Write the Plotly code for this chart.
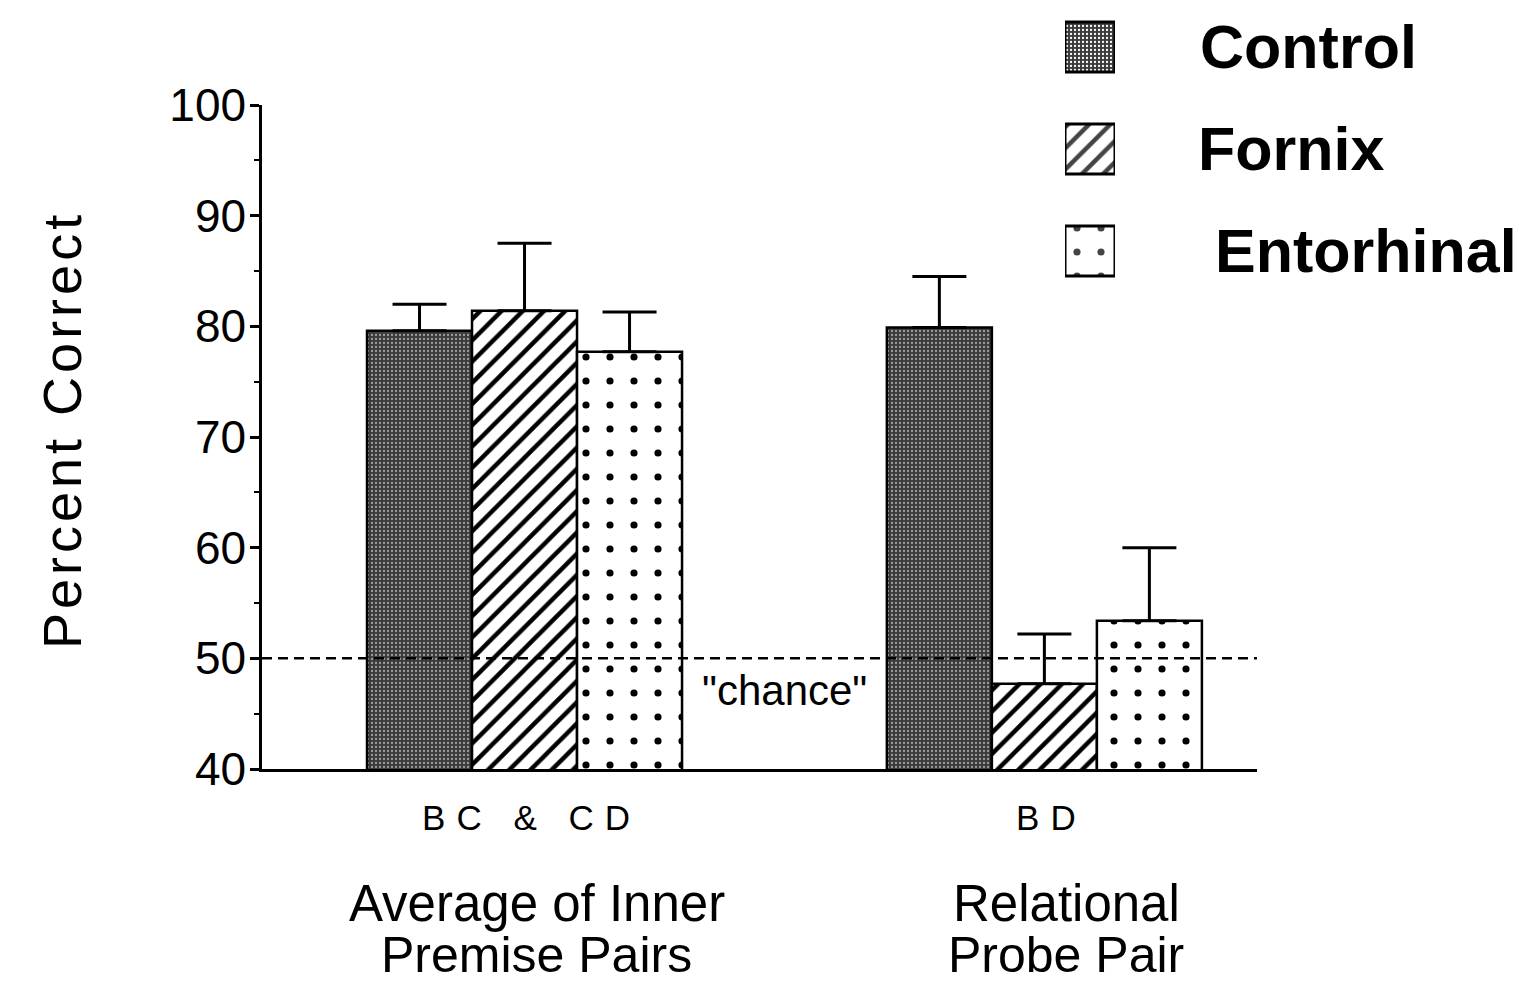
import plotly.graph_objects as go

# ---- data ----
categories = ["BC & CD", "BD"]
group_titles = [["Average of Inner", "Premise Pairs"], ["Relational", "Probe Pair"]]
series = ["Control", "Fornix", "Entorhinal"]
means = {
    "Control": [79.6, 79.9],
    "Fornix": [81.4, 47.7],
    "Entorhinal": [77.7, 53.4],
}
upper = {
    "Control": [82.0, 84.5],
    "Fornix": [87.5, 52.2],
    "Entorhinal": [81.3, 60.0],
}
CHANCE = 50
y_ticks = [40, 50, 60, 70, 80, 90, 100]

# ---- styles ----
FONT = "Liberation Sans, Arial, Helvetica, sans-serif"
styles = {
    "Control": dict(color="#3a3a3a", pattern=dict(shape=".", fgcolor="#a0a0a0", bgcolor="#3a3a3a", size=4, solidity=0.25)),
    "Fornix": dict(color="white", pattern=dict(shape="/", fgcolor="black", bgcolor="white", size=15, solidity=0.3)),
    "Entorhinal": dict(color="white", pattern=dict(shape=".", fgcolor="black", bgcolor="white", size=24, solidity=0.07)),
}

W, H = 1533, 985
def px_x(p):
    return p / W
def px_y(p):
    return (H - p) / H

fig = go.Figure()

for s in series:
    err = [u - m for u, m in zip(upper[s], means[s])]
    pat = dict(styles[s]["pattern"], fgopacity=1)
    fig.add_trace(go.Bar(
        x=categories, y=means[s], name=s, showlegend=False,
        marker=dict(color=styles[s]["color"], pattern=pat,
                    line=dict(color="black", width=2.5)),
        error_y=dict(type="data", array=err, arrayminus=[0] * len(err), symmetric=False,
                     color="black", thickness=3, width=27),
        xaxis="x", yaxis="y",
    ))

# legend swatches as a small hidden subplot
fig.add_trace(go.Bar(
    y=series, x=[1] * len(series), orientation="h", showlegend=False, width=0.49,
    marker=dict(
        color=[styles[s]["color"] for s in series],
        pattern=dict(
            shape=[styles[s]["pattern"]["shape"] for s in series],
            fgcolor=[styles[s]["pattern"]["fgcolor"] for s in series],
            bgcolor=[styles[s]["pattern"]["bgcolor"] for s in series],
            size=[styles[s]["pattern"]["size"] for s in series],
            solidity=[styles[s]["pattern"]["solidity"] for s in series],
            fgopacity=1,
        ),
        line=dict(color="black", width=3),
    ),
    xaxis="x2", yaxis="y2", hoverinfo="skip",
))

annotations = []
legend_x = [1198, 1196, 1213]
for s, lx in zip(series, legend_x):
    annotations.append(dict(
        x=px_x(lx), xref="paper", y=s, yref="y2", text=f"<b>{s}</b>", showarrow=False,
        xanchor="left", yanchor="middle", font=dict(family=FONT, size=61, color="black")))

for i, (cat, lines) in enumerate(zip(categories, group_titles)):
    shift = [12, 22][i]
    annotations.append(dict(x=cat, xref="x", y=px_y(903), yref="paper", text=lines[0],
                            showarrow=False, xanchor="center", yanchor="middle", xshift=shift,
                            font=dict(family=FONT, size=51, color="black")))
    annotations.append(dict(x=cat, xref="x", y=px_y(955), yref="paper", text=lines[1],
                            showarrow=False, xanchor="center", yanchor="middle", xshift=shift,
                            font=dict(family=FONT, size=50, color="black")))

annotations.append(dict(x=0.5, xref="x", y=47.1, yref="y", text='"chance"', showarrow=False,
                        xanchor="center", yanchor="middle",
                        font=dict(family=FONT, size=42, color="black")))

annotations.append(dict(x=px_x(62), xref="paper", y=px_y(430), yref="paper",
                        text='<span style="letter-spacing:4px">Percent Correct</span>',
                        textangle=-90, showarrow=False, xanchor="center", yanchor="middle",
                        font=dict(family=FONT, size=54, color="black")))

fig.update_layout(
    width=W, height=H,
    margin=dict(l=0, r=0, t=0, b=0, pad=0, autoexpand=False),
    paper_bgcolor="white", plot_bgcolor="white",
    barmode="group", bargap=0.394, bargroupgap=0,
    font=dict(family=FONT, color="black"),
    xaxis=dict(
        domain=[px_x(262), px_x(1257)],
        type="category", categoryorder="array", categoryarray=categories,
        range=[-0.505, 1.409],
        showline=True, linecolor="black", linewidth=2.5,
        ticks="", showgrid=False, zeroline=False, automargin=False,
        tickvals=categories,
        ticktext=[f'<span style="letter-spacing:11px">{c.replace("&", "&amp;")}</span>' for c in categories],
        tickfont=dict(family=FONT, size=35, color="black"),
        ticklabelstandoff=16,
        ticklabelshift=7,
    ),
    yaxis=dict(
        domain=[px_y(769), px_y(105)],
        range=[40, 100], tickvals=y_ticks,
        showline=True, linecolor="black", linewidth=2.5, automargin=False,
        ticks="outside", ticklen=9, tickwidth=2.5, tickcolor="black",
        minor=dict(dtick=5, ticks="outside", ticklen=5, tickwidth=2, tickcolor="black", showgrid=False),
        showgrid=False, zeroline=False,
        tickfont=dict(family=FONT, size=46, color="black"),
        ticklabelstandoff=-5,
    ),
    xaxis2=dict(domain=[px_x(1065), px_x(1115)], range=[0, 1], visible=False, anchor="y2"),
    yaxis2=dict(domain=[px_y(300), 1.0], type="category", categoryorder="array",
                categoryarray=series, range=[2.480, -0.461], visible=False, anchor="x2"),
    shapes=[dict(type="line", xref="paper", x0=px_x(262), x1=px_x(1257), yref="y",
                 y0=CHANCE, y1=CHANCE, layer="above",
                 line=dict(color="black", width=2.5, dash="10px,6px"))],
    annotations=annotations,
)

fig.write_html("out.html")
